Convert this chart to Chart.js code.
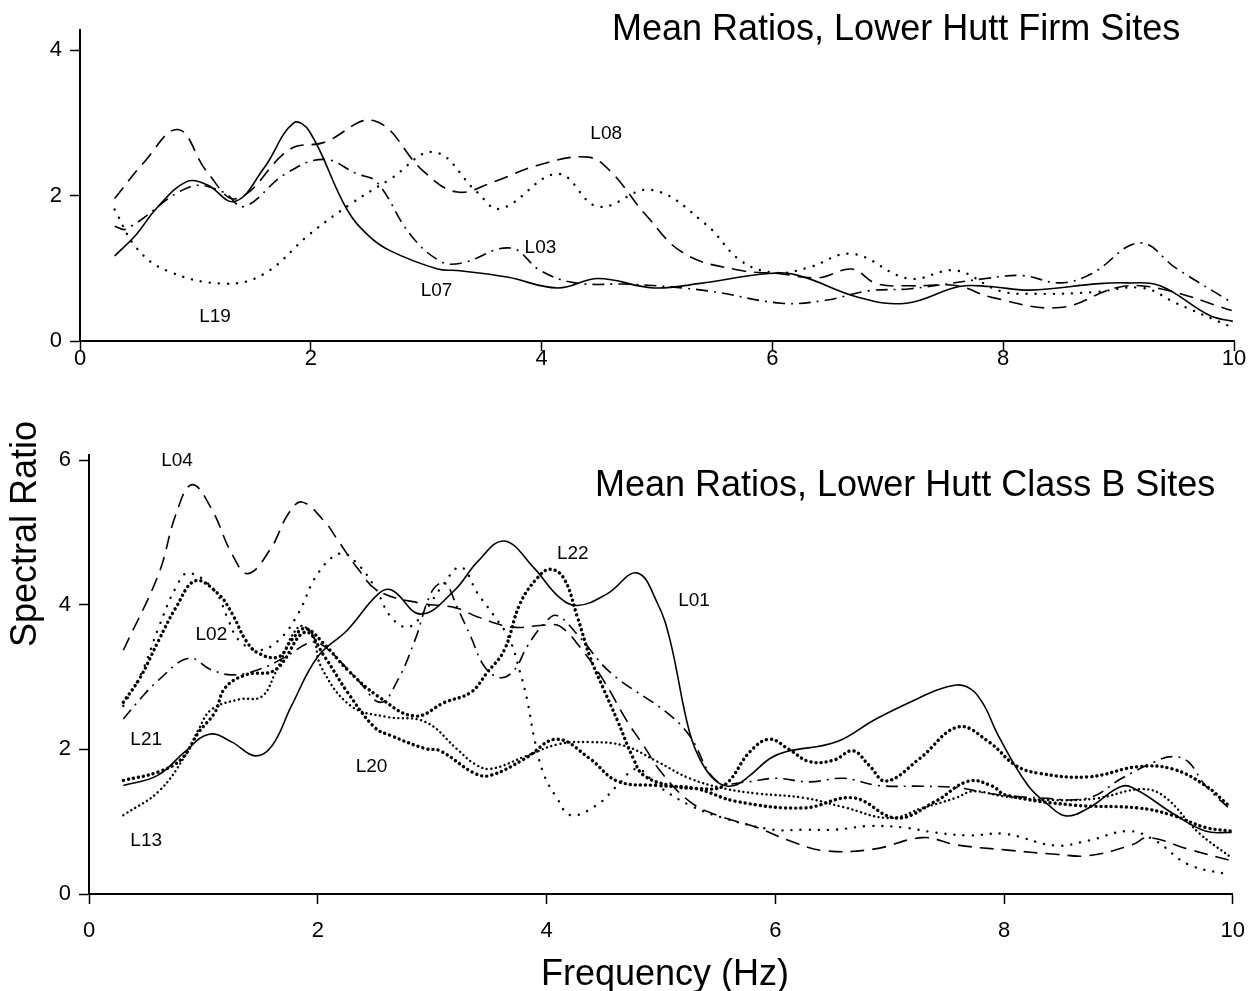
<!DOCTYPE html>
<html>
<head>
<meta charset="utf-8">
<script src="https://cdn.jsdelivr.net/npm/chart.js@4"></script>
<style>
  body { margin: 0; background: #fff; width: 1259px; height: 991px; overflow: hidden; position: relative; }
  canvas { position: absolute; left: 0; }
  .txt { position: absolute; font-family: "Liberation Sans", Arial, sans-serif; font-size: 36px; line-height: 36px; color: #000; white-space: nowrap; }
</style>
</head>
<body>
<canvas id="firm" width="1259" height="400" style="top:0"></canvas>
<canvas id="classb" width="1259" height="591" style="top:400px"></canvas>
<div class="txt" style="left:612px; top:10px">Mean Ratios, Lower Hutt Firm Sites</div>
<div class="txt" style="left:595px; top:466px">Mean Ratios, Lower Hutt Class B Sites</div>
<div class="txt" style="left:541px; top:955px">Frequency (Hz)</div>
<div class="txt" style="left:-126px; top:516px; width:300px; text-align:center; transform:rotate(-90deg)">Spectral Ratio</div>

<script>
// ---- top panel: firm sites ----
var l07Hz    = [0.3, 0.49, 0.66, 0.92, 1.1, 1.34, 1.59, 1.85, 1.99, 2.31, 2.5, 2.69, 3.1, 3.27, 3.7, 4.14, 4.49, 4.97, 5.36, 5.97, 6.23, 6.75, 7.16, 7.62, 7.88, 8.23, 8.83, 9.08, 9.36, 9.79, 9.99];
var l07Ratio = [1.17, 1.47, 1.82, 2.19, 2.15, 1.92, 2.37, 3.0, 2.88, 1.82, 1.45, 1.24, 0.99, 0.97, 0.88, 0.73, 0.86, 0.73, 0.79, 0.93, 0.9, 0.6, 0.52, 0.75, 0.75, 0.7, 0.79, 0.8, 0.76, 0.35, 0.27];

var l08Hz    = [0.3, 0.55, 0.85, 1.1, 1.36, 1.82, 2.11, 2.55, 2.98, 3.27, 3.6, 3.97, 4.4, 4.6, 4.9, 5.24, 5.73, 6.05, 6.4, 6.69, 6.9, 7.2, 7.6, 7.9, 8.49, 9.0, 9.36, 9.98];
var l08Ratio = [1.96, 2.45, 2.91, 2.33, 1.96, 2.64, 2.73, 3.03, 2.33, 2.05, 2.2, 2.42, 2.53, 2.33, 1.74, 1.2, 0.97, 0.93, 0.87, 0.99, 0.79, 0.76, 0.76, 0.6, 0.46, 0.74, 0.72, 0.42];

var l03Hz    = [0.3, 0.4, 0.95, 1.24, 1.42, 1.77, 2.11, 2.4, 2.57, 2.86, 3.12, 3.3, 3.73, 3.99, 4.29, 4.8, 5.44, 6.08, 6.46, 6.83, 7.2, 7.85, 8.17, 8.49, 8.77, 9.18, 9.5, 9.98];
var l03Ratio = [1.58, 1.54, 2.12, 2.05, 1.85, 2.29, 2.5, 2.3, 2.19, 1.47, 1.1, 1.07, 1.28, 0.97, 0.8, 0.78, 0.69, 0.52, 0.56, 0.69, 0.72, 0.86, 0.9, 0.8, 0.93, 1.35, 1.0, 0.53];

var l19Hz    = [0.3, 0.49, 0.75, 1.24, 1.59, 1.99, 2.34, 2.69, 3.07, 3.44, 3.64, 4.14, 4.49, 4.95, 5.42, 5.73, 6.03, 6.31, 6.69, 7.18, 7.59, 7.97, 8.29, 8.77, 9.21, 9.5, 9.98];
var l19Ratio = [1.81, 1.28, 0.97, 0.79, 0.92, 1.47, 1.88, 2.23, 2.6, 2.05, 1.82, 2.3, 1.85, 2.08, 1.61, 1.1, 0.94, 1.01, 1.2, 0.86, 0.97, 0.69, 0.65, 0.67, 0.73, 0.52, 0.19];

// ---- bottom panel: class B sites ----
var l01Hz    = [0.3, 0.6, 0.84, 1.05, 1.25, 1.45, 1.6, 1.77, 2.0, 2.26, 2.53, 2.65, 2.9, 3.19, 3.4, 3.63, 3.89, 4.1, 4.27, 4.53, 4.79, 4.97, 5.08, 5.25, 5.37, 5.51, 5.64, 5.78, 5.95, 6.1, 6.53, 6.88, 7.23, 7.49, 7.67, 7.81, 7.95, 8.21, 8.39, 8.54, 8.74, 9.03, 9.17, 9.47, 9.76, 9.99];
var l01Ratio = [1.5, 1.64, 1.97, 2.21, 2.1, 1.91, 2.05, 2.6, 3.28, 3.65, 4.15, 4.2, 3.87, 4.19, 4.6, 4.88, 4.51, 4.12, 3.99, 4.15, 4.44, 4.02, 3.51, 2.24, 1.78, 1.53, 1.5, 1.64, 1.87, 1.97, 2.1, 2.42, 2.69, 2.86, 2.87, 2.65, 2.19, 1.5, 1.23, 1.08, 1.19, 1.49, 1.43, 1.12, 0.87, 0.85];

var l04Hz    = [0.3, 0.61, 0.76, 0.9, 1.07, 1.25, 1.39, 1.59, 1.74, 1.86, 2.06, 2.18, 2.35, 2.53, 2.9, 3.2, 3.4, 3.7, 4.0, 4.12, 4.3, 4.5, 4.7, 4.85, 5.0, 5.25, 5.49, 5.84, 6.12, 6.42, 6.86, 7.29, 7.58, 8.01, 8.45, 8.74, 9.12, 9.26, 9.61, 9.99];
var l04Ratio = [3.37, 4.43, 5.25, 5.66, 5.33, 4.7, 4.43, 4.78, 5.25, 5.42, 5.15, 4.88, 4.5, 4.19, 4.02, 3.96, 3.83, 3.69, 3.72, 3.7, 3.4, 2.95, 2.4, 2.05, 1.69, 1.28, 1.09, 0.92, 0.74, 0.6, 0.62, 0.78, 0.68, 0.61, 0.55, 0.53, 0.68, 0.78, 0.62, 0.46];

var l02Hz    = [0.3, 0.46, 0.61, 0.76, 0.87, 1.1, 1.22, 1.31, 1.48, 1.66, 1.83, 2.0, 2.2, 2.35, 2.5, 2.64, 2.79, 2.94, 3.08, 3.25, 3.4, 3.55, 3.68, 3.77, 3.83, 3.9, 3.98, 4.09, 4.21, 4.44, 4.62, 4.79, 4.97, 5.25, 5.55, 5.98, 6.25, 6.53, 6.82, 7.12, 7.4, 7.69, 8.01, 8.45, 8.74, 9.09, 9.32, 9.61, 9.96];
var l02Ratio = [2.6, 3.06, 3.69, 4.24, 4.44, 4.19, 3.78, 3.51, 3.37, 3.51, 3.88, 4.43, 4.71, 4.56, 4.24, 3.83, 3.69, 3.92, 4.24, 4.52, 4.15, 3.83, 3.51, 3.06, 2.69, 2.1, 1.64, 1.33, 1.09, 1.23, 1.5, 1.73, 1.5, 1.23, 1.05, 0.89, 0.89, 0.89, 0.94, 0.92, 0.85, 0.81, 0.83, 0.67, 0.74, 0.87, 0.74, 0.41, 0.27];

var l22Hz    = [0.3, 0.45, 0.61, 0.76, 0.93, 1.13, 1.25, 1.37, 1.48, 1.66, 1.77, 1.89, 2.06, 2.26, 2.53, 2.85, 3.11, 3.34, 3.48, 3.63, 3.77, 3.92, 4.03, 4.15, 4.27, 4.38, 4.5, 4.62, 4.76, 4.85, 5.08, 5.31, 5.55, 5.78, 5.95, 6.12, 6.3, 6.51, 6.68, 6.82, 6.97, 7.26, 7.6, 7.87, 8.1, 8.3, 8.74, 9.17, 9.47, 9.76, 9.96];
var l22Ratio = [2.65, 3.0, 3.51, 3.96, 4.33, 4.15, 3.88, 3.51, 3.33, 3.28, 3.51, 3.67, 3.45, 3.1, 2.73, 2.46, 2.65, 2.79, 3.06, 3.37, 4.02, 4.37, 4.49, 4.37, 3.83, 3.28, 2.83, 2.4, 1.87, 1.64, 1.5, 1.46, 1.5, 1.97, 2.14, 2.0, 1.83, 1.85, 1.98, 1.78, 1.56, 1.87, 2.31, 2.1, 1.78, 1.67, 1.62, 1.76, 1.73, 1.5, 1.23];

var l20Hz    = [0.3, 0.61, 0.81, 0.96, 1.1, 1.19, 1.37, 1.63, 1.89, 2.06, 2.26, 2.5, 2.64, 2.94, 3.07, 3.37, 3.51, 3.81, 4.09, 4.38, 4.62, 4.97, 5.3, 5.66, 6.25, 6.68, 7.06, 7.4, 7.69, 7.9, 8.01, 8.6, 9.17, 9.47, 9.76, 9.99];
var l20Ratio = [1.57, 1.69, 1.87, 2.24, 2.51, 2.85, 3.03, 3.1, 3.62, 3.28, 2.79, 2.3, 2.19, 2.01, 1.98, 1.67, 1.64, 1.87, 2.14, 1.87, 1.56, 1.5, 1.46, 1.28, 1.19, 1.33, 1.05, 1.28, 1.56, 1.49, 1.37, 1.23, 1.19, 1.09, 0.92, 0.87];

var l21Hz    = [0.3, 0.45, 0.61, 0.87, 1.07, 1.25, 1.48, 1.72, 1.94, 2.06, 2.35, 2.55, 2.7, 2.85, 3.0, 3.11, 3.22, 3.34, 3.46, 3.6, 3.72, 3.83, 3.98, 4.09, 4.29, 4.56, 5.05, 5.25, 5.49, 5.75, 6.0, 6.3, 6.6, 6.9, 7.29, 7.6, 7.87, 8.3, 8.74, 9.03, 9.32, 9.47, 9.61, 9.76, 9.99];
var l21Ratio = [2.42, 2.7, 2.96, 3.26, 3.1, 3.03, 3.1, 3.28, 3.48, 3.42, 2.96, 2.65, 2.96, 3.51, 4.19, 4.3, 3.96, 3.55, 3.14, 2.99, 3.1, 3.42, 3.74, 3.85, 3.55, 3.06, 2.51, 2.19, 1.56, 1.55, 1.6, 1.55, 1.6, 1.5, 1.49, 1.47, 1.39, 1.33, 1.33, 1.6, 1.83, 1.9, 1.83, 1.5, 1.15];

var l13Hz    = [0.3, 0.61, 0.84, 0.96, 1.07, 1.31, 1.51, 1.63, 1.83, 1.95, 2.03, 2.29, 2.6, 2.94, 3.22, 3.37, 3.51, 3.81, 4.1, 4.38, 4.68, 4.97, 5.25, 5.55, 5.84, 6.25, 6.6, 7.0, 7.29, 7.58, 7.73, 8.0, 8.4, 8.8, 9.2, 9.4, 9.7, 9.99];
var l13Ratio = [1.09, 1.42, 1.91, 2.28, 2.55, 2.69, 2.73, 3.06, 3.69, 3.6, 3.14, 2.6, 2.45, 2.38, 2.0, 1.8, 1.73, 1.9, 2.07, 2.1, 2.05, 1.83, 1.6, 1.46, 1.39, 1.33, 1.2, 1.05, 1.19, 1.33, 1.42, 1.35, 1.3, 1.32, 1.45, 1.35, 0.85, 0.5];

// site names written next to the curves: [text, Hz, ratio]
var firmNames   = [['L19', 1.17, 0.34], ['L07', 3.09, 0.69], ['L03', 3.99, 1.28], ['L08', 4.56, 2.85]];
var classBNames = [['L04', 0.77, 5.99], ['L02', 1.07, 3.59], ['L21', 0.5, 2.13], ['L13', 0.5, 0.73],
                   ['L20', 2.47, 1.76], ['L22', 4.23, 4.71], ['L01', 5.29, 4.06]];

var xTicks = [0, 2, 4, 6, 8, 10];
var firmYTicks = [0, 2, 4];
var classBYTicks = [0, 2, 4, 6];

var FONT = '"Liberation Sans", Arial, sans-serif';

function points(hz, ratio) {
    return hz.map(function (f, i) { return { x: f, y: ratio[i] }; });
}

// line looks, like the plotter pens
var SOLID   = { borderDash: [], borderWidth: 1.6, borderCapStyle: 'butt' };
var DASHED  = { borderDash: [14, 8], borderWidth: 1.6, borderCapStyle: 'butt' };
var DASHDOT = { borderDash: [12, 6, 2, 6], borderWidth: 1.6, borderCapStyle: 'butt' };
var DOTTED  = { borderDash: [0.1, 9], borderWidth: 2.4, borderCapStyle: 'round' };
var HEAVY   = { borderDash: [0.1, 5], borderWidth: 3.4, borderCapStyle: 'round' };
var FINE    = { borderDash: [0.1, 4.5], borderWidth: 2.4, borderCapStyle: 'round' };

function series(label, hz, ratio, look) {
    return Object.assign({
        label: label,
        data: points(hz, ratio),
        borderColor: '#000',
        backgroundColor: '#000',
        pointRadius: 0,
        tension: 0.4,
        fill: false
    }, look);
}

var namePlugin = {
    id: 'siteNames',
    afterDatasetsDraw: function (chart, args, opts) {
        var ctx = chart.ctx;
        ctx.save();
        ctx.fillStyle = '#000';
        ctx.font = '19px ' + FONT;
        ctx.textAlign = 'center';
        ctx.textBaseline = 'middle';
        opts.names.forEach(function (n) {
            ctx.fillText(n[0], chart.scales.x.getPixelForValue(n[1]), chart.scales.y.getPixelForValue(n[2]));
        });
        ctx.restore();
    }
};

function makeChart(id, datasets, names, yMax, yTicks, pad, yWidth, xHeight, xPad) {
    var ctx = document.getElementById(id).getContext('2d');
    return new Chart(ctx, {
        type: 'line',
        data: { datasets: datasets },
        plugins: [namePlugin],
        options: {
            responsive: false,
            animation: false,
            layout: { padding: pad },
            plugins: {
                legend: { display: false },
                tooltip: { enabled: false },
                siteNames: { names: names }
            },
            scales: {
                x: {
                    type: 'linear',
                    min: 0,
                    max: 10,
                    afterBuildTicks: function (scale) { scale.ticks = xTicks.map(function (v) { return { value: v }; }); },
                    afterFit: function (scale) { scale.height = xHeight; },
                    border: { display: true, color: '#000', width: 2 },
                    grid: { drawOnChartArea: false, drawTicks: true, tickLength: 10, tickWidth: 1.5, tickColor: '#000' },
                    ticks: { color: '#000', font: { family: FONT, size: 22 }, padding: xPad, maxRotation: 0, autoSkip: false }
                },
                y: {
                    type: 'linear',
                    min: 0,
                    max: yMax,
                    afterBuildTicks: function (scale) { scale.ticks = yTicks.map(function (v) { return { value: v }; }); },
                    afterFit: function (scale) { scale.width = yWidth; },
                    border: { display: true, color: '#000', width: 2 },
                    grid: { drawOnChartArea: false, drawTicks: true, tickLength: 10, tickWidth: 1.5, tickColor: '#000' },
                    ticks: { color: '#000', font: { family: FONT, size: 22 }, padding: 8 }
                }
            }
        }
    });
}

window.onload = function () {
    makeChart('firm', [
        series('L07', l07Hz, l07Ratio, SOLID),
        series('L08', l08Hz, l08Ratio, DASHED),
        series('L03', l03Hz, l03Ratio, DASHDOT),
        series('L19', l19Hz, l19Ratio, DOTTED)
    ], firmNames, 4.28, firmYTicks, { top: 30, right: 25, left: 0, bottom: 0 }, 80, 59, -5);

    makeChart('classb', [
        series('L01', l01Hz, l01Ratio, SOLID),
        series('L04', l04Hz, l04Ratio, DASHED),
        series('L21', l21Hz, l21Ratio, DASHDOT),
        series('L02', l02Hz, l02Ratio, DOTTED),
        series('L22', l22Hz, l22Ratio, HEAVY),
        series('L20', l20Hz, l20Ratio, HEAVY),
        series('L13', l13Hz, l13Ratio, FINE)
    ], classBNames, 6.07, classBYTicks, { top: 55, right: 21, left: 0, bottom: 0 }, 89, 97, 14);
};
</script>
</body>
</html>
